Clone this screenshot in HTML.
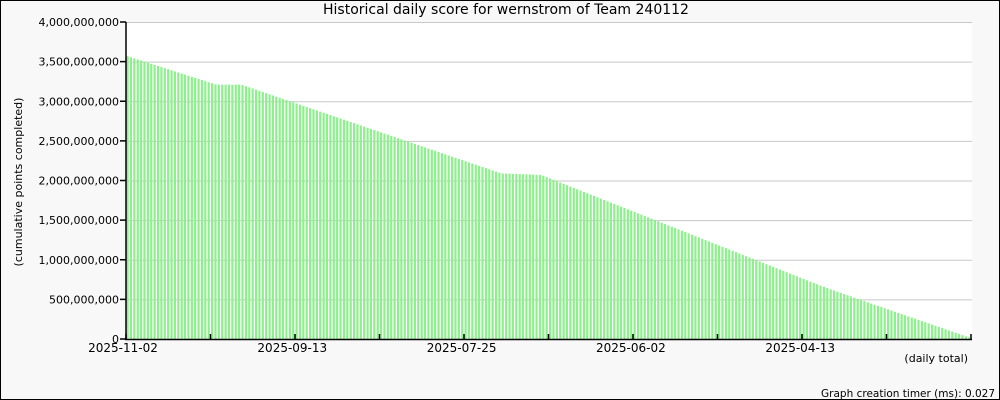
<!DOCTYPE html>
<html><head><style>
html,body{margin:0;padding:0;background:#f8f8f8;}
svg{display:block;font-family:"DejaVu Sans",sans-serif;}
</style></head><body>
<svg id="s" width="1000" height="400" xmlns="http://www.w3.org/2000/svg">
<rect x="0.5" y="0.5" width="999" height="399" fill="#f8f8f8" stroke="#000"/>
<rect x="126" y="22" width="846" height="317" fill="#fff"/>
<g id="grid" stroke="#c8c8c8" stroke-width="1"></g>
<g id="bars" fill="#90ee90"></g>
<g id="ax" stroke="#000" stroke-width="1.5"></g>
<g id="lab" font-size="11" fill="#000"></g>
<text x="506" y="14" font-size="14" text-anchor="middle">Historical daily score for wernstrom of Team 240112</text>
<text transform="translate(22,182) rotate(-90)" font-size="11" text-anchor="middle">(cumulative points completed)</text>
<text x="968" y="362" font-size="11" text-anchor="end">(daily total)</text>
<text x="995" y="397" font-size="10.5" text-anchor="end">Graph creation timer (ms): 0.027</text>
</svg>
<script>
var NS="http://www.w3.org/2000/svg";
function el(p,t,a,txt){var e=document.createElementNS(NS,t);for(var k in a)e.setAttribute(k,a[k]);if(txt)e.textContent=txt;document.getElementById(p).appendChild(e);}
var y0=339,h=317;
var labs=["0","500,000,000","1,000,000,000","1,500,000,000","2,000,000,000","2,500,000,000","3,000,000,000","3,500,000,000","4,000,000,000"];
for(var i=0;i<=8;i++){var y=y0-h*i/8;
 if(i>0)el("grid","line",{x1:126,x2:972,y1:y+0.5,y2:y+0.5});
 el("ax","line",{x1:120,x2:126,y1:y,y2:y});
 el("lab","text",{x:119,y:y+4,"text-anchor":"end"},labs[i]);}
var kp=[[126,3.57],[215,3.21],[240,3.21],[500,2.09],[540,2.07],[820,0.67],[858,0.5],[968,0.02]];
function v(x){for(var j=0;j<kp.length-1;j++){if(x<=kp[j+1][0]){var a=kp[j],b=kp[j+1];return a[1]+(b[1]-a[1])*(x-a[0])/(b[0]-a[0]);}}return 0.02;}
var pitch=3.38;
for(var i=0;i<250;i++){var x=126.5+i*pitch;var val=v(x);var bh=h*val/4;
 el("bars","rect",{x:x.toFixed(2),y:(y0-bh).toFixed(2),width:2.2,height:bh.toFixed(2)});}
el("ax","line",{x1:126,x2:126,y1:22,y2:340});
el("ax","line",{x1:125,x2:972,y1:339.5,y2:339.5});
var xl=["2025-11-02","2025-09-13","2025-07-25","2025-06-02","2025-04-13"];
for(var i=0;i<10;i++){var x=126+i*84.5;el("ax","line",{x1:x,x2:x,y1:334,y2:339});}
el("ax","line",{x1:971,x2:971,y1:334,y2:339});
for(var i=0;i<5;i++){el("lab","text",{x:123+i*169.3,y:352,"text-anchor":"middle","font-size":"12"},xl[i]);}
</script>
</body></html>
